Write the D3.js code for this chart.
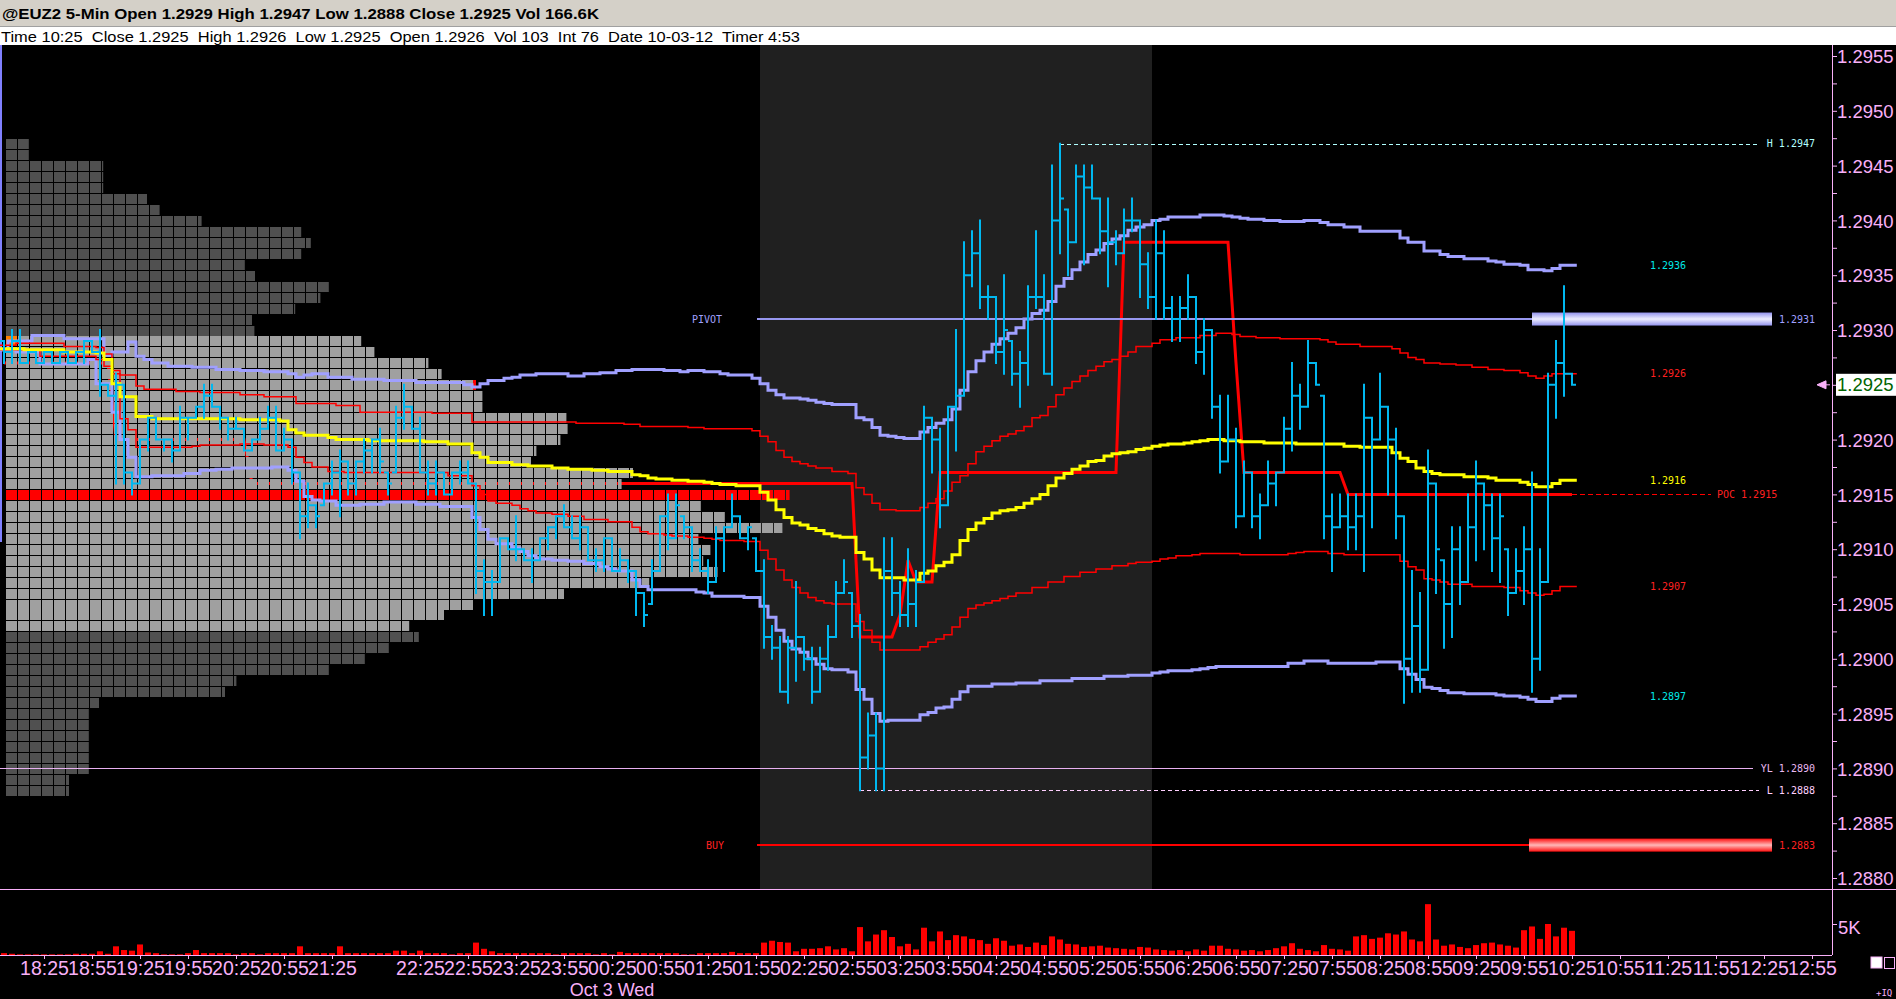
<!DOCTYPE html>
<html><head><meta charset="utf-8">
<script src="https://cdn.jsdelivr.net/npm/d3@7"></script>
<style>
html,body{margin:0;padding:0;background:#000;overflow:hidden}
svg{display:block}
</style></head><body>
<svg id="c" width="1896" height="999"></svg>
<script>
// ---------------- DATA ----------------
const titleText = "@EUZ2 5-Min Open 1.2929 High 1.2947 Low 1.2888 Close 1.2925 Vol 166.6K";
const statusText = "Time 10:25  Close 1.2925  High 1.2926  Low 1.2925  Open 1.2926  Vol 103  Int 76  Date 10-03-12  Timer 4:53";
const sessionStartTime = "18:00";
const missingBarTimes = ["21:55"];
const dayLabel = "Oct 3 Wed";
const dayLabelAt = "00:25";
const shadedSession = ["02:00", "06:00"];
const timeTickLabels = ["18:25","18:55","19:25","19:55","20:25","20:55","21:25","22:25","22:55","23:25","23:55",
 "00:25","00:55","01:25","01:55","02:25","02:55","03:25","03:55","04:25","04:55","05:25","05:55","06:25","06:55",
 "07:25","07:55","08:25","08:55","09:25","09:55","10:25","10:55","11:25","11:55","12:25","12:55"];
const priceTicks = [1.2880,1.2885,1.2890,1.2895,1.2900,1.2905,1.2910,1.2915,1.2920,1.2925,1.2930,1.2935,1.2940,1.2945,1.2950,1.2955];
const volumeTicks = [5];

const barOpen = [
1.2929,1.2928,1.2929,1.2927,1.2928,1.2927,1.2928,1.2927,1.2928,1.2927,
1.2928,1.2929,1.2928,1.2925,1.2924,1.2925,1.2917,1.2916,1.2920,1.2922,
1.2920,1.2920,1.2919,1.2922,1.2922,1.2923,1.2924,1.2923,1.2922,1.2921,
1.2921,1.2919,1.2920,1.2921,1.2922,1.2919,1.2920,1.2917,1.2913,1.2914,
1.2914,1.2916,1.2917,1.2918,1.2916,1.2918,1.2919,1.2920,1.2917,1.2917,
1.2922,1.2923,1.2921,1.2917,1.2916,1.2917,1.2915,1.2917,1.2917,1.2916,
1.2908,1.2907,1.2907,1.2911,1.2910,1.2910,1.2909,1.2909,1.2911,1.2912,
1.2913,1.2912,1.2911,1.2912,1.2909,1.2909,1.2911,1.2908,1.2909,1.2908,
1.2906,1.2905,1.2908,1.2913,1.2911,1.2913,1.2912,1.2909,1.2908,1.2907,
1.2911,1.2912,1.2913,1.2911,1.2911,1.2908,1.2902,1.2901,1.2897,1.2901,
1.2902,1.2900,1.2897,1.2900,1.2902,1.2906,1.2906,1.2903,1.2891,1.2893,
1.2890,1.2908,1.2906,1.2904,1.2905,1.2907,1.2922,1.2920,1.2914,1.2923,
1.2924,1.2935,1.2937,1.2933,1.2933,1.2928,1.2929,1.2926,1.2927,1.2933,
1.2933,1.2926,1.2940,1.2941,1.2938,1.2944,1.2943,1.2942,1.2939,1.2938,
1.2937,1.2940,1.2940,1.2936,1.2933,1.2937,1.2932,1.2931,1.2932,1.2933,
1.2928,1.2930,1.2923,1.2918,1.2920,1.2913,1.2917,1.2913,1.2914,1.2916,
1.2917,1.2921,1.2924,1.2923,1.2927,1.2924,1.2913,1.2912,1.2913,1.2912,
1.2913,1.2922,1.2920,1.2923,1.2920,1.2913,1.2900,1.2903,1.2899,1.2916,
1.2909,1.2905,1.2910,1.2907,1.2912,1.2916,1.2914,1.2911,1.2910,1.2906,
1.2908,1.2910,1.2900,1.2907,1.2925,1.2927,1.2926];
const barHigh = [
1.2929,1.2930,1.2930,1.2928,1.2928,1.2928,1.2928,1.2928,1.2928,1.2928,
1.2929,1.2929,1.2930,1.2925,1.2926,1.2925,1.2917,1.2920,1.2922,1.2922,
1.2920,1.2920,1.2923,1.2922,1.2923,1.2925,1.2925,1.2923,1.2922,1.2922,
1.2921,1.2920,1.2922,1.2923,1.2923,1.2921,1.2920,1.2917,1.2916,1.2914,
1.2916,1.2918,1.2919,1.2918,1.2918,1.2920,1.2920,1.2921,1.2917,1.2923,
1.2925,1.2923,1.2922,1.2918,1.2918,1.2917,1.2917,1.2918,1.2918,1.2916,
1.2909,1.2908,1.2911,1.2911,1.2913,1.2910,1.2910,1.2911,1.2912,1.2913,
1.2914,1.2913,1.2913,1.2912,1.2910,1.2911,1.2911,1.2910,1.2909,1.2908,
1.2906,1.2909,1.2913,1.2915,1.2915,1.2913,1.2912,1.2910,1.2909,1.2912,
1.2912,1.2915,1.2913,1.2912,1.2911,1.2909,1.2903,1.2902,1.2902,1.2907,
1.2902,1.2901,1.2901,1.2903,1.2907,1.2909,1.2906,1.2904,1.2895,1.2895,
1.2911,1.2911,1.2907,1.2910,1.2908,1.2923,1.2922,1.2921,1.2923,1.2930,
1.2938,1.2939,1.2940,1.2934,1.2933,1.2935,1.2929,1.2928,1.2934,1.2939,
1.2935,1.2945,1.2947,1.2941,1.2945,1.2945,1.2945,1.2942,1.2942,1.2939,
1.2941,1.2942,1.2940,1.2937,1.2940,1.2939,1.2933,1.2933,1.2935,1.2933,
1.2931,1.2930,1.2924,1.2924,1.2921,1.2918,1.2917,1.2915,1.2918,1.2917,
1.2922,1.2927,1.2925,1.2929,1.2927,1.2924,1.2915,1.2915,1.2915,1.2915,
1.2925,1.2922,1.2926,1.2923,1.2921,1.2913,1.2908,1.2906,1.2919,1.2916,
1.2909,1.2912,1.2912,1.2915,1.2918,1.2916,1.2915,1.2915,1.2910,1.2910,
1.2912,1.2917,1.2910,1.2926,1.2929,1.2934,1.2926];
const barLow = [
1.2927,1.2927,1.2927,1.2927,1.2927,1.2927,1.2927,1.2927,1.2927,1.2927,
1.2927,1.2928,1.2924,1.2924,1.2916,1.2916,1.2915,1.2916,1.2919,1.2920,
1.2919,1.2918,1.2919,1.2920,1.2922,1.2922,1.2923,1.2921,1.2920,1.2921,
1.2919,1.2919,1.2920,1.2921,1.2919,1.2919,1.2916,1.2911,1.2912,1.2912,
1.2914,1.2915,1.2913,1.2915,1.2915,1.2917,1.2917,1.2917,1.2915,1.2917,
1.2921,1.2921,1.2917,1.2915,1.2915,1.2915,1.2915,1.2916,1.2916,1.2906,
1.2904,1.2904,1.2907,1.2910,1.2909,1.2909,1.2907,1.2909,1.2910,1.2911,
1.2912,1.2911,1.2910,1.2909,1.2908,1.2908,1.2908,1.2908,1.2907,1.2904,
1.2903,1.2905,1.2908,1.2910,1.2911,1.2911,1.2908,1.2908,1.2906,1.2907,
1.2908,1.2912,1.2911,1.2910,1.2908,1.2901,1.2900,1.2897,1.2896,1.2898,
1.2899,1.2896,1.2897,1.2899,1.2902,1.2906,1.2902,1.2888,1.2890,1.2888,
1.2888,1.2904,1.2903,1.2903,1.2903,1.2907,1.2917,1.2912,1.2914,1.2919,
1.2924,1.2934,1.2932,1.2931,1.2927,1.2926,1.2925,1.2923,1.2925,1.2932,
1.2926,1.2925,1.2937,1.2935,1.2938,1.2936,1.2942,1.2937,1.2934,1.2936,
1.2937,1.2939,1.2933,1.2932,1.2931,1.2931,1.2929,1.2929,1.2931,1.2927,
1.2926,1.2922,1.2917,1.2918,1.2912,1.2913,1.2912,1.2911,1.2914,1.2914,
1.2917,1.2919,1.2921,1.2923,1.2925,1.2911,1.2908,1.2912,1.2910,1.2910,
1.2908,1.2912,1.2920,1.2915,1.2911,1.2896,1.2897,1.2897,1.2899,1.2906,
1.2901,1.2902,1.2905,1.2907,1.2909,1.2910,1.2908,1.2907,1.2904,1.2906,
1.2905,1.2897,1.2899,1.2907,1.2922,1.2924,1.2925];
const barClose = [
1.2928,1.2929,1.2927,1.2928,1.2927,1.2928,1.2927,1.2928,1.2927,1.2928,
1.2929,1.2928,1.2925,1.2924,1.2925,1.2917,1.2916,1.2920,1.2922,1.2920,
1.2920,1.2919,1.2922,1.2922,1.2923,1.2924,1.2923,1.2922,1.2921,1.2921,
1.2919,1.2920,1.2921,1.2922,1.2919,1.2920,1.2917,1.2913,1.2914,1.2913,
1.2916,1.2917,1.2918,1.2916,1.2918,1.2919,1.2920,1.2918,1.2916,1.2922,
1.2923,1.2921,1.2917,1.2916,1.2917,1.2915,1.2917,1.2917,1.2916,1.2908,
1.2907,1.2907,1.2911,1.2910,1.2910,1.2909,1.2909,1.2911,1.2912,1.2913,
1.2912,1.2911,1.2912,1.2909,1.2909,1.2911,1.2908,1.2909,1.2908,1.2906,
1.2904,1.2908,1.2913,1.2911,1.2914,1.2912,1.2909,1.2908,1.2907,1.2911,
1.2912,1.2913,1.2911,1.2912,1.2908,1.2902,1.2901,1.2897,1.2901,1.2902,
1.2900,1.2897,1.2900,1.2902,1.2906,1.2907,1.2903,1.2891,1.2893,1.2890,
1.2908,1.2906,1.2904,1.2905,1.2907,1.2922,1.2920,1.2914,1.2923,1.2924,
1.2935,1.2937,1.2933,1.2933,1.2928,1.2930,1.2926,1.2927,1.2933,1.2933,
1.2926,1.2940,1.2942,1.2938,1.2944,1.2943,1.2942,1.2939,1.2938,1.2937,
1.2940,1.2940,1.2936,1.2933,1.2937,1.2932,1.2931,1.2932,1.2933,1.2928,
1.2930,1.2923,1.2918,1.2920,1.2913,1.2917,1.2913,1.2914,1.2916,1.2917,
1.2921,1.2924,1.2923,1.2927,1.2925,1.2913,1.2912,1.2913,1.2912,1.2913,
1.2922,1.2920,1.2923,1.2920,1.2913,1.2900,1.2903,1.2899,1.2916,1.2910,
1.2905,1.2910,1.2907,1.2912,1.2916,1.2914,1.2911,1.2913,1.2906,1.2908,
1.2910,1.2900,1.2907,1.2925,1.2927,1.2926,1.2925];
// volume per bar, thousands of contracts
const barVolumeK = [
0.3,0.2,0.1,0.1,0.1,0.1,0.1,0.1,0.1,0.2,
0.2,0.2,0.6,0.2,1.4,0.8,0.7,1.7,0.4,0.3,
0.1,0.1,0.1,0.3,0.8,0.3,0.3,0.3,0.3,0.1,
0.3,0.3,0.1,0.3,0.3,0.3,0.3,1.4,0.3,0.3,
0.3,0.3,1.4,0.3,0.3,0.3,0.3,0.3,0.3,0.7,
0.7,0.3,0.7,0.3,0.3,0.3,0.1,0.3,0.3,2.0,
1.0,0.6,0.3,0.3,0.3,0.3,0.3,0.3,0.3,0.1,
0.3,0.3,0.3,0.3,0.1,0.3,0.1,0.5,0.3,0.3,
0.3,0.3,0.3,0.3,0.3,0.1,0.1,0.3,0.3,0.3,
0.3,0.5,0.3,0.3,0.3,2.0,2.3,2.1,2.0,0.6,
1.0,1.0,1.1,1.4,0.9,1.1,0.6,4.5,2.2,3.3,
4.0,2.9,1.4,1.8,0.9,4.4,2.2,3.8,2.4,3.2,
3.0,2.6,2.4,1.8,2.7,2.3,1.5,1.7,1.3,2.0,
1.6,3.0,2.5,1.8,1.7,1.3,1.4,1.5,1.2,1.1,
1.0,0.9,1.3,1.2,0.9,0.8,0.7,0.8,0.6,0.9,
0.7,1.5,1.5,1.0,0.9,0.7,0.8,0.6,0.8,1.1,
1.4,1.9,1.0,0.8,0.6,1.6,1.0,0.9,0.7,3.0,
3.2,2.6,2.8,3.5,3.3,3.8,2.5,2.2,8.2,2.5,
1.5,1.7,1.3,1.1,1.6,1.9,2.0,1.7,1.5,1.2,
4.0,4.6,2.6,5.0,3.0,4.4,3.9];

// market profile, one row per price tick, top (1.2947) to bottom (1.2888)
const profileTopPrice = 1.2947;
const profileVolume = [1.9,1.9,8.1,8.1,8.1,11.75,12.8,16.3,24.6,25.4,
 24.6,19.9,20.75,26.9,26.2,24.1,20.5,20.7,29.6,30.7,
 35.2,36.3,39.0,39.7,39.7,46.7,46.8,46.2,44.2,43.75,
 52.25,51.3,65.3,57.9,59.9,64.7,57.7,58.7,58.1,59.3,
 53.6,46.5,39.0,36.5,33.6,34.4,31.9,29.9,26.9,19.2,
 18.25,7.75,6.9,6.9,6.9,6.9,6.9,6.9,5.25,5.25];
const valueAreaHigh = 1.2929, valueAreaLow = 1.2903, pocPrice = 1.2915, openPrice = 1.2929;

// VWAP and deviation bands: [bar, value] change points of stepped lines
const vwapUpper2 = [[0,1.29282],[1,1.2929],[4,1.29295],[8,1.29292],[13,1.29277],[14,1.2928],[16,1.29289],[17,1.29276],[18,1.29273],[19,1.2927],[21,1.29267],[24,1.29266],[27,1.29264],[30,1.29263],[33,1.29262],[36,1.2926],[37,1.29257],[38,1.29259],[39,1.2926],[41,1.29257],[44,1.29255],[48,1.29254],[52,1.29252],[58,1.2925],[59,1.29248],[60,1.29251],[61,1.29254],[63,1.29256],[64,1.29257],[65,1.29259],[67,1.2926],[71,1.29258],[73,1.2926],[75,1.29261],[77,1.29263],[79,1.29264],[83,1.29263],[85,1.29262],[86,1.29263],[88,1.29262],[90,1.2926],[91,1.29259],[94,1.29256],[95,1.29251],[96,1.29245],[97,1.29241],[98,1.29238],[100,1.29237],[101,1.29236],[102,1.29234],[103,1.29233],[104,1.29232],[107,1.2922],[108,1.29218],[109,1.29211],[110,1.29204],[111,1.29203],[112,1.29202],[113,1.29201],[115,1.29207],[116,1.29211],[117,1.29215],[118,1.29218],[119,1.29228],[120,1.29245],[121,1.29262],[122,1.29272],[123,1.2928],[124,1.29287],[125,1.29292],[126,1.29297],[127,1.29302],[128,1.2931],[129,1.29315],[130,1.29318],[131,1.29326],[132,1.2934],[133,1.29347],[134,1.29355],[135,1.29362],[136,1.29369],[137,1.29373],[138,1.29379],[139,1.29383],[140,1.29386],[141,1.29391],[142,1.29394],[143,1.29396],[144,1.294],[145,1.29401],[146,1.29403],[150,1.29405],[153,1.29404],[154,1.29403],[155,1.29402],[156,1.29401],[158,1.294],[160,1.29399],[163,1.294],[165,1.29398],[166,1.29396],[168,1.29394],[170,1.2939],[175,1.29384],[176,1.2938],[178,1.29372],[180,1.29369],[181,1.29367],[183,1.29365],[186,1.29363],[187,1.29362],[188,1.2936],[190,1.29359],[191,1.29355],[193,1.29354],[194,1.29356],[195,1.29359]];
const vwapUpper1 = [[0,1.29286],[2,1.29288],[8,1.29285],[12,1.29284],[13,1.29278],[14,1.29263],[15,1.29259],[17,1.29249],[18,1.29246],[22,1.29244],[25,1.29243],[30,1.29241],[33,1.29239],[37,1.29233],[42,1.29231],[45,1.29225],[54,1.29224],[59,1.29216],[72,1.29215],[78,1.29214],[80,1.29212],[86,1.29211],[88,1.2921],[94,1.29208],[95,1.29203],[96,1.29198],[97,1.2919],[98,1.29184],[99,1.2918],[100,1.29178],[101,1.29176],[102,1.29174],[104,1.29171],[106,1.29169],[107,1.29156],[108,1.2915],[109,1.29142],[110,1.29136],[112,1.29135],[115,1.29138],[116,1.29142],[117,1.29146],[118,1.29153],[119,1.29161],[120,1.29167],[121,1.29178],[122,1.29189],[123,1.29194],[124,1.29199],[125,1.29203],[126,1.29205],[127,1.29208],[128,1.29212],[129,1.2922],[130,1.29222],[131,1.2923],[132,1.29241],[133,1.29247],[134,1.29253],[135,1.29258],[136,1.29263],[137,1.29267],[138,1.29271],[139,1.29273],[140,1.29276],[141,1.2928],[142,1.29285],[144,1.29288],[145,1.29291],[147,1.29293],[150,1.29295],[152,1.29297],[154,1.29296],[155,1.29294],[157,1.29293],[160,1.29292],[165,1.29291],[166,1.29289],[167,1.29287],[170,1.29285],[174,1.29283],[175,1.29279],[176,1.29275],[177,1.29273],[178,1.2927],[180,1.29269],[182,1.29268],[184,1.29266],[186,1.29264],[188,1.29263],[190,1.29261],[191,1.29258],[192,1.29256],[193,1.29258],[194,1.2926]];
const vwapLine = [[0,1.29283],[3,1.29282],[8,1.2928],[12,1.29279],[13,1.29273],[14,1.29251],[15,1.29239],[17,1.29221],[19,1.29219],[30,1.29218],[35,1.29217],[36,1.29209],[37,1.29206],[38,1.29204],[41,1.29202],[42,1.292],[46,1.29199],[53,1.29198],[56,1.29196],[59,1.29188],[60,1.29184],[61,1.29179],[64,1.29177],[66,1.29176],[69,1.29174],[71,1.29173],[74,1.29172],[76,1.29171],[79,1.29168],[80,1.29167],[81,1.29165],[82,1.29164],[84,1.29163],[86,1.29162],[88,1.29161],[89,1.2916],[90,1.29159],[92,1.29158],[95,1.29152],[96,1.29145],[97,1.29136],[98,1.29129],[99,1.29124],[100,1.29122],[101,1.29119],[102,1.29117],[103,1.29114],[104,1.29112],[105,1.29111],[107,1.29097],[108,1.29091],[109,1.29081],[110,1.29074],[113,1.29072],[115,1.29078],[116,1.2908],[117,1.29085],[118,1.29088],[119,1.29095],[120,1.29108],[121,1.29118],[122,1.29124],[123,1.29128],[124,1.29133],[125,1.29135],[126,1.29136],[127,1.29138],[128,1.29142],[129,1.29146],[130,1.2915],[131,1.29158],[132,1.29165],[133,1.29169],[134,1.29173],[135,1.29176],[136,1.2918],[137,1.29181],[138,1.29185],[139,1.29187],[140,1.29188],[141,1.29189],[142,1.29191],[143,1.29192],[144,1.29194],[145,1.29195],[146,1.29196],[148,1.29197],[149,1.29198],[150,1.29199],[151,1.292],[153,1.29199],[155,1.29198],[158,1.29197],[162,1.29196],[168,1.29194],[170,1.29193],[174,1.29188],[175,1.29183],[176,1.2918],[177,1.29174],[178,1.29171],[179,1.29169],[180,1.29168],[183,1.29166],[186,1.29165],[187,1.29163],[190,1.29161],[191,1.29159],[192,1.29157],[194,1.2916],[195,1.29163]];
const vwapLower1 = [[0,1.29282],[5,1.29276],[12,1.29273],[13,1.29267],[14,1.2926],[15,1.29219],[16,1.29209],[17,1.29193],[24,1.29194],[25,1.29195],[30,1.29196],[33,1.29195],[36,1.29193],[37,1.29184],[38,1.29179],[39,1.29175],[41,1.29171],[43,1.2917],[56,1.29167],[59,1.29158],[60,1.2915],[61,1.29144],[62,1.29142],[64,1.2914],[65,1.29137],[66,1.29135],[67,1.29133],[69,1.29132],[71,1.2913],[73,1.29127],[76,1.29125],[79,1.2912],[80,1.29116],[81,1.29114],[83,1.29113],[84,1.29112],[86,1.29111],[88,1.2911],[89,1.29109],[90,1.29108],[93,1.29107],[95,1.29099],[96,1.29091],[97,1.29081],[98,1.29072],[99,1.29065],[100,1.2906],[101,1.29056],[102,1.29053],[103,1.29051],[104,1.2905],[107,1.29034],[108,1.29026],[109,1.29015],[110,1.29008],[115,1.29011],[116,1.29015],[117,1.29018],[118,1.29022],[119,1.29029],[120,1.29038],[121,1.29046],[122,1.29049],[123,1.29051],[124,1.29053],[125,1.29055],[126,1.29057],[127,1.2906],[129,1.29065],[131,1.2907],[133,1.29075],[135,1.29079],[137,1.29082],[139,1.29085],[141,1.29087],[142,1.29088],[144,1.29089],[145,1.29091],[146,1.29092],[147,1.29094],[149,1.29095],[150,1.29096],[155,1.29095],[161,1.29096],[162,1.29097],[163,1.29098],[166,1.29096],[168,1.29095],[175,1.29089],[176,1.29084],[177,1.29081],[178,1.29073],[179,1.29072],[180,1.2907],[181,1.29068],[184,1.29066],[188,1.29065],[190,1.29062],[191,1.2906],[192,1.29058],[193,1.29059],[194,1.29062],[195,1.29066]];
const vwapLower2 = [[0,1.29282],[2,1.2928],[5,1.29269],[11,1.29273],[12,1.29251],[14,1.29225],[15,1.292],[16,1.29184],[17,1.29166],[19,1.29167],[23,1.29169],[25,1.29172],[27,1.29173],[29,1.29174],[34,1.29175],[36,1.29172],[37,1.29162],[38,1.29148],[39,1.29145],[40,1.29144],[42,1.2914],[45,1.29141],[48,1.29143],[52,1.29141],[55,1.29139],[59,1.29129],[60,1.29118],[61,1.29109],[62,1.29105],[64,1.29101],[65,1.29098],[66,1.29094],[67,1.29091],[69,1.2909],[71,1.29089],[73,1.29087],[75,1.29084],[76,1.29082],[77,1.2908],[79,1.29072],[80,1.29066],[81,1.29063],[87,1.29061],[88,1.2906],[89,1.29057],[93,1.29056],[95,1.29048],[96,1.29038],[97,1.29026],[98,1.29016],[99,1.29009],[100,1.29006],[101,1.29],[102,1.28995],[103,1.28991],[104,1.2899],[106,1.28988],[107,1.28972],[108,1.28963],[109,1.2895],[110,1.28943],[111,1.28944],[115,1.28949],[116,1.28951],[117,1.28955],[118,1.28956],[119,1.28963],[120,1.2897],[121,1.28975],[124,1.28977],[127,1.28978],[130,1.2898],[134,1.28982],[138,1.28984],[141,1.28985],[144,1.28987],[145,1.28988],[146,1.28989],[149,1.2899],[150,1.28991],[151,1.28992],[152,1.28993],[161,1.28996],[163,1.28998],[166,1.28996],[172,1.28997],[175,1.28991],[176,1.28986],[177,1.28981],[178,1.28974],[179,1.28973],[180,1.28971],[181,1.28969],[183,1.28968],[187,1.28967],[188,1.28966],[190,1.28965],[191,1.28963],[192,1.28961],[194,1.28964],[195,1.28966]];
// developing point of control
const developingPoc = [[0,1.2927],[13,1.2927],[14,1.2920],[30,1.2920],[31,1.2916],[106,1.2916],[107,1.2902],[111,1.2902],[112,1.2904],[113,1.2909],[114,1.2907],[116,1.2907],[117,1.2917],[139,1.2917],[140,1.2938],[153,1.2938],[154,1.2927],[155,1.2917],[167,1.2917],[168,1.2915],[196,1.2915]];

// reference levels
const pivotLevel = 1.2931, buyLevel = 1.2883, yesterdayLow = 1.2890, dayHigh = 1.2947, dayLow = 1.2888;
const dayHighBar = 132, dayLowBar = 107;
const lastPrice = 1.2925;

// ---------------- SCALES ----------------
function barOf(t){
  const [h,m] = t.split(':').map(Number);
  const [h0,m0] = sessionStartTime.split(':').map(Number);
  const min = ((h*60+m) - (h0*60+m0) + 1440) % 1440;
  let b = min/5;
  missingBarTimes.forEach(mt => { const [mh,mm]=mt.split(':').map(Number); const mmin=((mh*60+mm)-(h0*60+m0)+1440)%1440; if(min>=mmin) b -= 1; });
  return b;
}
const W = 1896, H = 999;
const AXIS_X = 1832, PRICE_TOP = 45, PRICE_BOTTOM = 889, VOL_BASE = 955;
const x = d3.scaleLinear().domain([0, 226]).range([4, 1812]);
const y = d3.scaleLinear().domain([1.2880, 1.2955]).range([878, 56]);
const yv = d3.scaleLinear().domain([0, 5]).range([VOL_BASE, 924]);
const pink = "#f8b0f8", cyanBar = "#00b8f0", lav = "#a0a0ff";
const sansFont = "'Liberation Sans', Arial, sans-serif";
const monoFont = "'DejaVu Sans Mono', monospace";
const axisFontSize = 18.5;

const svg = d3.select('#c');
const defs = svg.append('defs');
function grad(id, edge, mid){
  const g = defs.append('linearGradient').attr('id', id).attr('x1',0).attr('y1',0).attr('x2',0).attr('y2',1);
  g.append('stop').attr('offset','0%').attr('stop-color',edge);
  g.append('stop').attr('offset','50%').attr('stop-color',mid);
  g.append('stop').attr('offset','100%').attr('stop-color',edge);
}
grad('gPivot', '#9494ee', '#eeeeff');
grad('gBuy', '#ff1010', '#ffb8b8');
defs.append('clipPath').attr('id','plotClip').append('rect').attr('x',0).attr('y',PRICE_TOP).attr('width',AXIS_X).attr('height',PRICE_BOTTOM-PRICE_TOP);

// background
svg.append('rect').attr('width',W).attr('height',H).attr('fill','#000');
// header
svg.append('rect').attr('x',0).attr('y',0).attr('width',W).attr('height',27).attr('fill','#d4d0c8');
svg.append('rect').attr('x',0).attr('y',27).attr('width',W).attr('height',18).attr('fill','#ffffff');
svg.append('line').attr('x1',0).attr('x2',W).attr('y1',26.5).attr('y2',26.5).attr('stroke','#a0a0a0');
svg.append('text').attr('x',2).attr('y',19).attr('font-family',sansFont).attr('font-weight','bold')
  .attr('font-size',15.5).attr('fill','#000').attr('textLength',597).attr('lengthAdjust','spacingAndGlyphs').text(titleText);
svg.append('text').attr('x',1).attr('y',42).attr('font-family',sansFont).attr('font-size',14)
  .attr('fill','#000').attr('textLength',799).attr('lengthAdjust','spacingAndGlyphs').style('white-space','pre').text(statusText);

const plot = svg.append('g').attr('clip-path','url(#plotClip)');
// shaded session
plot.append('rect').attr('x', x(barOf(shadedSession[0]) - 0.5)).attr('y', PRICE_TOP)
  .attr('width', x(barOf(shadedSession[1]) + 0.5) - x(barOf(shadedSession[0]) - 0.5))
  .attr('height', PRICE_BOTTOM - PRICE_TOP).attr('fill', '#202020');

// developing POC (drawn under the profile)
plot.append('path').datum(developingPoc)
  .attr('d', d3.line().x(d => x(d[0])).y(d => y(d[1])))
  .attr('fill','none').attr('stroke','#ff0000').attr('stroke-width',3);

// market profile
const cellW = 12, profileX0 = 6;
const rowH = y(1.2880) - y(1.2881);
const prof = plot.append('g');
profileVolume.forEach((v, k) => {
  const price = +(profileTopPrice - k*0.0001).toFixed(4);
  const top = y(price + 0.00005);
  const right = profileX0 + v*cellW;
  const inVA = price <= valueAreaHigh + 1e-9 && price >= valueAreaLow - 1e-9;
  const isPoc = Math.abs(price - pocPrice) < 1e-9;
  const col = isPoc ? '#ff0000' : (inVA ? '#a0a0a0' : '#505050');
  const cells = d3.range(Math.ceil(v));
  prof.selectAll(null).data(cells).enter().append('rect')
    .attr('x', j => profileX0 + j*cellW)
    .attr('y', Math.round(top) + 1)
    .attr('width', j => Math.max(0, Math.min(cellW - 1, right - (profileX0 + j*cellW))))
    .attr('height', Math.round(rowH) - 1)
    .attr('fill', (j) => (j === 0 && Math.abs(price - openPrice) < 1e-9) ? '#ff8000' : col);
});

// small markers at far left
plot.append('line').attr('x1',1).attr('x2',1).attr('y1',PRICE_TOP).attr('y2',542).attr('stroke','#8080ff').attr('stroke-width',2);
plot.append('rect').attr('x', x(58.75)-1).attr('y', 380).attr('width',3).attr('height',10).attr('fill','#ff0000');

// yesterday low line
plot.append('line').attr('x1',0).attr('x2',1753).attr('y1',Math.round(y(yesterdayLow))+0.5).attr('y2',Math.round(y(yesterdayLow))+0.5)
  .attr('stroke','#e8b0f0').attr('stroke-width',1);

// stepped bands
function stepPath(pts){
  const last = pts[pts.length-1];
  const arr = pts.map(d => [x(d[0]-0.5), y(d[1])]);
  arr[0][0] = x(0) - 4;
  arr.push([x(196.6), y(last[1])]);
  return d3.line().curve(d3.curveStepAfter)(arr);
}
[[vwapLower2, lav, 3],[vwapUpper2, lav, 3],[vwapLower1, '#ff0000', 1.5],[vwapUpper1, '#ff0000', 1.5],[vwapLine, '#ffff00', 3]]
.forEach(([pts, col, w]) => {
  plot.append('path').attr('d', stepPath(pts)).attr('fill','none').attr('stroke',col).attr('stroke-width',w);
});

// horizontal reference lines
const sessX = x(barOf(shadedSession[0]) - 0.5);
function hline(x1, x2, p, col, w, dash){
  const yy = Math.round(y(p)) + (w % 2 ? 0.5 : 0);
  svg.append('line').attr('x1',x1).attr('x2',x2).attr('y1',yy).attr('y2',yy).attr('stroke',col).attr('stroke-width',w)
    .attr('stroke-dasharray', dash || null);
}
hline(sessX-3, x(191), pivotLevel, '#9898f0', 2);
hline(sessX-3, x(191), buyLevel, '#ff0000', 2);
hline(x(dayHighBar), 1759, dayHigh, '#b0ffff', 1, '4,3');
hline(x(dayLowBar), 1759, dayLow, '#ffd0ff', 1, '4,3');
hline(x(196), 1711, pocPrice, '#ff0000', 1, '5,3');
svg.append('rect').attr('x', x(191)).attr('y', y(pivotLevel)-6.5).attr('width', x(221)-x(191)).attr('height', 13).attr('fill','url(#gPivot)');
svg.append('rect').attr('x', x(191)-3).attr('y', y(buyLevel)-6.5).attr('width', x(221)-x(191)+3).attr('height', 13).attr('fill','url(#gBuy)');

// OHLC bars
const bars = d3.range(barOpen.length).map(i => ({i, o:barOpen[i], h:barHigh[i], l:barLow[i], c:barClose[i], v:barVolumeK[i]}));
svg.append('g').selectAll('path').data(bars).enter().append('path')
  .attr('d', d => {
    const xx = x(d.i);
    return `M${xx},${y(d.h)-1}V${y(d.l)+1}M${xx-4},${y(d.o)}H${xx}M${xx},${y(d.c)}H${xx+4}`;
  })
  .attr('fill','none').attr('stroke',cyanBar).attr('stroke-width',2);

// labels
function lab(tx, xx, p, col, anchor){
  svg.append('text').attr('x',xx).attr('y',y(p)).attr('dy','0.35em').attr('font-family',monoFont).attr('font-size',10)
    .attr('text-anchor',anchor||'start').attr('fill',col).text(tx);
}
const f4 = d3.format('.4f');
lab(f4(vwapUpper2[vwapUpper2.length-1][1]), 1650, vwapUpper2[vwapUpper2.length-1][1], '#00e8e8');
lab(f4(vwapUpper1[vwapUpper1.length-1][1]), 1650, vwapUpper1[vwapUpper1.length-1][1], '#ff2020');
lab(f4(vwapLine[vwapLine.length-1][1]), 1650, vwapLine[vwapLine.length-1][1], '#ffff00');
lab(f4(vwapLower1[vwapLower1.length-1][1]), 1650, vwapLower1[vwapLower1.length-1][1], '#ff2020');
lab(f4(vwapLower2[vwapLower2.length-1][1]), 1650, vwapLower2[vwapLower2.length-1][1], '#00e8e8');
lab('H ' + f4(dayHigh), 1815, dayHigh, '#b0ffff', 'end');
lab(f4(pivotLevel), 1815, pivotLevel, lav, 'end');
lab('POC ' + f4(pocPrice), 1717, pocPrice, '#ff2020');
lab('YL ' + f4(yesterdayLow), 1815, yesterdayLow, '#e8b8f0', 'end');
lab('L ' + f4(dayLow), 1815, dayLow, '#ffd0ff', 'end');
lab(f4(buyLevel), 1815, buyLevel, '#ff2020', 'end');
lab('PIVOT', 692, pivotLevel, lav);
lab('BUY', 706, buyLevel, '#ff2020');

// volume panel
svg.append('line').attr('x1',0).attr('x2',W).attr('y1',PRICE_BOTTOM+0.5).attr('y2',PRICE_BOTTOM+0.5).attr('stroke',pink);
svg.append('g').selectAll('rect').data(bars).enter().append('rect')
  .attr('x', d => x(d.i) - 3).attr('width', 6)
  .attr('y', d => yv(d.v)).attr('height', d => VOL_BASE - yv(d.v)).attr('fill','#ff0000');

// y axis (price)
const yAxisG = svg.append('g').attr('transform',`translate(${AXIS_X},0)`);
yAxisG.call(d3.axisRight(y).tickValues(priceTicks).tickFormat(f4).tickSize(5).tickPadding(0));
const minorTicks = priceTicks.slice(0,-1).map(p => +(p + 0.00025).toFixed(5));
const yMinorG = svg.append('g').attr('transform',`translate(${AXIS_X},0)`);
yMinorG.call(d3.axisRight(y).tickValues(minorTicks).tickFormat('').tickSize(5));
// volume axis
const vAxisG = svg.append('g').attr('transform',`translate(${AXIS_X},0)`);
vAxisG.call(d3.axisRight(yv).tickValues(volumeTicks).tickFormat(d => d + 'K').tickSize(5).tickPadding(1));
// x axis
const tickBars = timeTickLabels.map(barOf);
const xAxisG = svg.append('g').attr('transform',`translate(0,${VOL_BASE})`);
xAxisG.call(d3.axisBottom(x).tickValues(tickBars).tickFormat((d,i) => timeTickLabels[i]).tickSize(4).tickPadding(2));
[yAxisG, yMinorG, vAxisG].forEach(g => {
  g.select('.domain').remove();
  g.selectAll('line').attr('stroke', pink);
  g.selectAll('text').attr('fill', pink).attr('font-family', sansFont).attr('font-size', axisFontSize);
});
xAxisG.select('.domain').remove();
xAxisG.selectAll('line').attr('stroke', pink);
xAxisG.selectAll('text').attr('fill', pink).attr('font-family', sansFont).attr('font-size', 19.5).attr('dy',null).attr('y', 20);
yAxisG.selectAll('text').attr('dy','0.36em');
vAxisG.selectAll('text').attr('dy','0.5em');
// axis lines
svg.append('line').attr('x1',AXIS_X+0.5).attr('x2',AXIS_X+0.5).attr('y1',PRICE_TOP).attr('y2',VOL_BASE).attr('stroke',pink);
svg.append('line').attr('x1',0).attr('x2',AXIS_X).attr('y1',VOL_BASE+0.5).attr('y2',VOL_BASE+0.5).attr('stroke',pink);
// day label
svg.append('text').attr('x', x(barOf(dayLabelAt))).attr('y', 996).attr('text-anchor','middle')
  .attr('font-family',sansFont).attr('font-size',18).attr('fill',pink).text(dayLabel);

// last price marker
const lpY = y(lastPrice);
svg.append('rect').attr('x',1836).attr('y',lpY-11).attr('width',62).attr('height',22).attr('fill','#ffffff');
svg.append('text').attr('x',1837).attr('y',lpY).attr('dy','0.36em').attr('font-family',sansFont).attr('font-size',axisFontSize)
  .attr('fill','#006400').text(f4(lastPrice));
svg.append('path').attr('d',`M${1817},${lpY}L${1826},${lpY-4}L${1826},${lpY+4}Z M1824,${lpY}H1830`).attr('fill',pink).attr('stroke',pink).attr('stroke-width',1);

// bottom-right widgets
svg.append('rect').attr('x',1871).attr('y',957).attr('width',11).attr('height',11).attr('fill','#ffffff').attr('stroke',pink);
svg.append('rect').attr('x',1884.5).attr('y',957.5).attr('width',10).attr('height',11).attr('fill','none').attr('stroke',pink);
svg.append('text').attr('x',1876).attr('y',996).attr('font-family',monoFont).attr('font-size',9).attr('fill',pink).text('+IQ');
</script>
</body></html>
